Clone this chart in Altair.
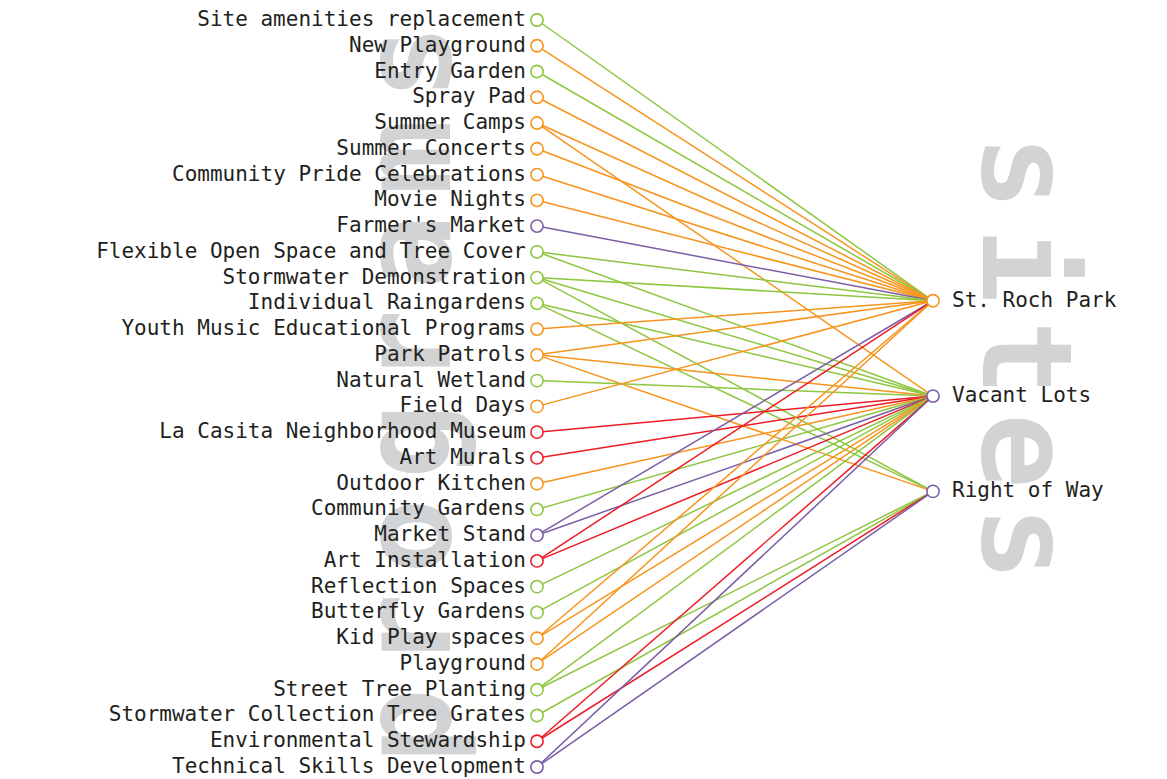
import altair as alt
import pandas as pd

# ---------------- data ----------------
programs = [
    "Site amenities replacement", "New Playground", "Entry Garden", "Spray Pad",
    "Summer Camps", "Summer Concerts", "Community Pride Celebrations", "Movie Nights",
    "Farmer's Market", "Flexible Open Space and Tree Cover", "Stormwater Demonstration",
    "Individual Raingardens", "Youth Music Educational Programs", "Park Patrols",
    "Natural Wetland", "Field Days", "La Casita Neighborhood Museum", "Art Murals",
    "Outdoor Kitchen", "Community Gardens", "Market Stand", "Art Installation",
    "Reflection Spaces", "Butterfly Gardens", "Kid Play spaces", "Playground",
    "Street Tree Planting", "Stormwater Collection Tree Grates",
    "Environmental Stewardship", "Technical Skills Development",
]
program_groups = [
    "Environmental", "Recreational", "Environmental", "Recreational",
    "Recreational", "Recreational", "Recreational", "Recreational",
    "Economic", "Environmental", "Environmental",
    "Environmental", "Recreational", "Recreational",
    "Environmental", "Recreational", "Cultural", "Cultural",
    "Recreational", "Environmental", "Economic", "Cultural",
    "Environmental", "Environmental", "Recreational", "Recreational",
    "Environmental", "Environmental",
    "Cultural", "Economic",
]
sites = ["St. Roch Park", "Vacant Lots", "Right of Way"]
site_groups = ["Recreational", "Economic", "Economic"]
site_rows = [10.9, 14.6, 18.3]          # vertical slot of each site, in program-row units

# which sites each program is linked to (index into sites)
program_sites = [
    [0], [0], [0], [0], [0, 1], [0], [0], [0], [0], [0, 1], [0, 1, 2], [1, 2],
    [0], [0, 1, 2], [1], [0], [1], [1], [1], [1], [0, 1], [0, 1], [1], [1],
    [0, 1], [0, 1], [1, 2], [2], [1, 2], [1, 2],
]

group_names = ["Environmental", "Recreational", "Economic", "Cultural"]
group_colors = ["#8dc63f", "#f7941d", "#7b5ea7", "#ed1c24"]

# big background words
wm_left_word = "programs"     # reads bottom-to-top
wm_left_first_row = 27.4
wm_left_step = 3.68
wm_right_word = "sites"       # reads top-to-bottom
wm_right_first_row = 5.93
wm_right_step = 3.6

# ---------------- tables ----------------
prog_df = pd.DataFrame({
    "name": programs,
    "group": program_groups,
    "row": list(range(len(programs))),
    "x": 0.0,
})
site_df = pd.DataFrame({
    "name": sites,
    "group": site_groups,
    "row": site_rows,
    "x": 1.0,
})
edge_rows = []
for i, targets in enumerate(program_sites):
    for j in targets:
        edge_rows.append({
            "program": programs[i], "site": sites[j], "group": program_groups[i],
            "x0": 0.0, "y0": float(i), "x1": 1.0, "y1": site_rows[j],
        })
edge_df = pd.DataFrame(edge_rows)

wm_left_df = pd.DataFrame({
    "ch": list(wm_left_word),
    "row": [wm_left_first_row - k * wm_left_step for k in range(len(wm_left_word))],
    "x": -0.22,
})
wm_right_df = pd.DataFrame({
    "ch": list(wm_right_word),
    "row": [wm_right_first_row + k * wm_right_step for k in range(len(wm_right_word))],
    "x": 1.126,
})

# ---------------- scales ----------------
xscale = alt.Scale(domain=[0, 1], range=[529, 925], nice=False, zero=False)
yscale = alt.Scale(domain=[0, 29], range=[12, 759], nice=False, zero=False)
cscale = alt.Scale(domain=group_names, range=group_colors)

FONT = "DejaVu Sans Mono"
WM_COLOR = "#d1d3d4"

wm_left = alt.Chart(wm_left_df).mark_text(
    font=FONT, fontWeight="bold", fontSize=125, color=WM_COLOR,
    align="center", baseline="alphabetic", angle=270,
).encode(
    x=alt.X("x:Q", scale=xscale, axis=None),
    y=alt.Y("row:Q", scale=yscale, axis=None),
    text="ch:N",
)
wm_right = alt.Chart(wm_right_df).mark_text(
    font=FONT, fontWeight="bold", fontSize=125, color=WM_COLOR,
    align="center", baseline="alphabetic", angle=90,
).encode(
    x=alt.X("x:Q", scale=xscale, axis=None),
    y=alt.Y("row:Q", scale=yscale, axis=None),
    text="ch:N",
)

left_labels = alt.Chart(prog_df).mark_text(
    font=FONT, fontSize=21, color="#231f20", align="right", baseline="middle", dx=-11,
).encode(
    x=alt.X("x:Q", scale=xscale, axis=None),
    y=alt.Y("row:Q", scale=yscale, axis=None),
    text="name:N",
)
right_labels = alt.Chart(site_df).mark_text(
    font=FONT, fontSize=21, color="#231f20", align="left", baseline="middle", dx=19,
).encode(
    x=alt.X("x:Q", scale=xscale, axis=None),
    y=alt.Y("row:Q", scale=yscale, axis=None),
    text="name:N",
)

edges = alt.Chart(edge_df).mark_rule(strokeWidth=1.5).encode(
    x=alt.X("x0:Q", scale=xscale, axis=None),
    x2="x1:Q",
    y=alt.Y("y0:Q", scale=yscale, axis=None),
    y2="y1:Q",
    color=alt.Color("group:N", scale=cscale, legend=None),
)

prog_nodes = alt.Chart(prog_df).mark_point(
    shape="circle", size=150, filled=True, fill="white", strokeWidth=1.6, opacity=1,
).encode(
    x=alt.X("x:Q", scale=xscale, axis=None),
    y=alt.Y("row:Q", scale=yscale, axis=None),
    stroke=alt.Stroke("group:N", scale=cscale, legend=None),
)
site_nodes = alt.Chart(site_df).mark_point(
    shape="circle", size=150, filled=True, fill="white", strokeWidth=1.6, opacity=1,
).encode(
    x=alt.X("x:Q", scale=xscale, axis=None),
    y=alt.Y("row:Q", scale=yscale, axis=None),
    stroke=alt.Stroke("group:N", scale=cscale, legend=None),
)

chart = alt.layer(
    wm_left, wm_right, left_labels, right_labels, edges, prog_nodes, site_nodes
).properties(
    width=1150, height=770,
    autosize=alt.AutoSizeParams(type="none"),
    padding=0,
    background="white",
).configure_view(stroke=None)

chart.save("out.html", embed_options={"renderer": "svg", "actions": False})
